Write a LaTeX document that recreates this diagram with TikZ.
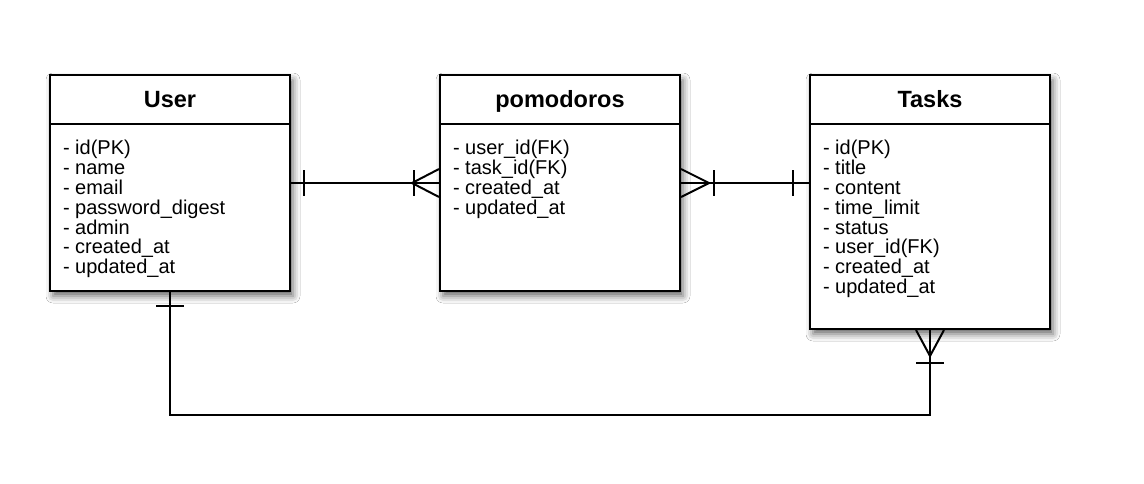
\documentclass[tikz,border=0pt]{standalone}
\usepackage{fontspec}
\setmainfont{Liberation Sans}
\usetikzlibrary{shadows.blur,calc}
\begin{document}
\begin{tikzpicture}[x=1pt,y=-1pt,line width=2pt,line cap=butt,
  ent/.style={draw=black,fill=white,line width=2pt,minimum width=240pt,inner sep=0pt,
    blur shadow={shadow xshift=3pt,shadow yshift=-5pt,shadow blur radius=7pt,shadow opacity=60}},
  ttl/.style={font=\fontsize{23.5}{27}\selectfont\bfseries,inner sep=0pt,text height=16.6pt,text depth=0pt},
  attr/.style={font=\fontsize{20}{19.8}\selectfont,align=left,inner sep=0pt,anchor=north west},
  rel/.style={draw=black,line width=2pt}]
\fill[white] (0,0) rectangle (1144,483);
\useasboundingbox (0,0) rectangle (1144,483);
% entities
\node[ent,minimum height=216pt] (user) at (170,183) {};
\node[ent,minimum height=216pt] (pomo) at (560,183) {};
\node[ent,minimum height=254pt] (tasks) at (930,202) {};
% header separators
\draw ($(user.north west)+(0,50)$) -- ($(user.north east)+(0,50)$);
\draw ($(pomo.north west)+(0,50)$) -- ($(pomo.north east)+(0,50)$);
\draw ($(tasks.north west)+(0,50)$) -- ($(tasks.north east)+(0,50)$);
% titles
\node[ttl] (userT) at ($(user.north)+(0,25)$) {User};
\node[ttl] (pomoT) at ($(pomo.north)+(0,25)$) {pomodoros};
\node[ttl] (tasksT) at ($(tasks.north)+(0,25)$) {Tasks};
% attributes
\node[attr] (userA) at ($(user.north west)+(13,65.5)$) {- id(PK)\\- name\\- email\\- password\_digest\\- admin\\- created\_at\\- updated\_at};
\node[attr] (pomoA) at ($(pomo.north west)+(13,65.5)$) {- user\_id(FK)\\- task\_id(FK)\\- created\_at\\- updated\_at};
\node[attr] (tasksA) at ($(tasks.north west)+(13,65.5)$) {- id(PK)\\- title\\- content\\- time\_limit\\- status\\- user\_id(FK)\\- created\_at\\- updated\_at};
% connectors
\coordinate (low) at (0,415);
\coordinate (tw) at (pomo.east -| tasks.west);
\draw[rel] (user.east) -- (pomo.west);
\draw[rel] (pomo.east) -- (tw);
\draw[rel] (user.south) |- (tasks.south |- low) -- (tasks.south);
% User -- pomodoros ends
\draw[rel] ($(user.east)+(13,-13)$) -- ($(user.east)+(13,13)$);
\draw[rel] ($(pomo.west)+(-25,-13)$) -- ($(pomo.west)+(-25,13)$);
\draw[rel] ($(pomo.west)+(0,-14)$) -- ($(pomo.west)+(-27,0)$) -- ($(pomo.west)+(0,14)$);
% pomodoros -- Tasks ends
\draw[rel] ($(pomo.east)+(0,-14)$) -- ($(pomo.east)+(28,0)$) -- ($(pomo.east)+(0,14)$);
\draw[rel] ($(pomo.east)+(33,-13)$) -- ($(pomo.east)+(33,13)$);
\draw[rel] ($(tw)+(-16,-13)$) -- ($(tw)+(-16,13)$);
% User -- Tasks ends
\draw[rel] ($(user.south)+(-14,14)$) -- ($(user.south)+(14,14)$);
\draw[rel] ($(tasks.south)+(-14,0)$) -- ($(tasks.south)+(0,26)$) -- ($(tasks.south)+(14,0)$);
\draw[rel] ($(tasks.south)+(-14,33)$) -- ($(tasks.south)+(14,33)$);
\end{tikzpicture}
\end{document}
